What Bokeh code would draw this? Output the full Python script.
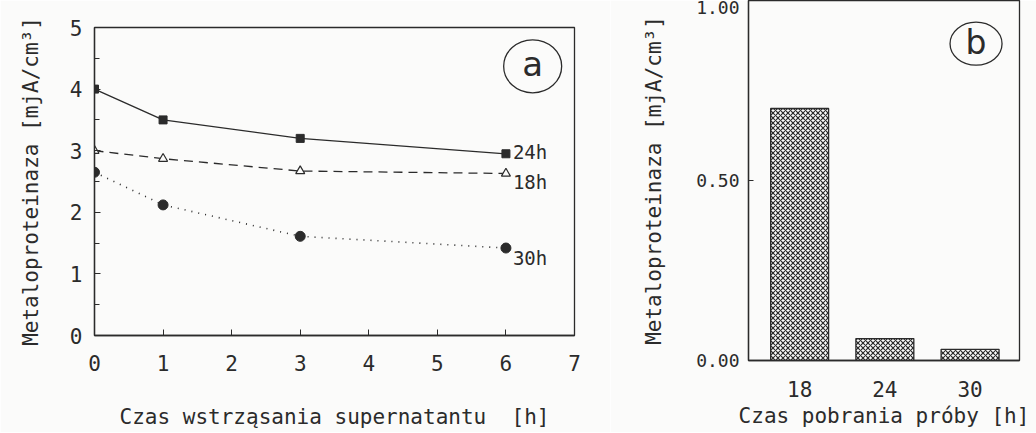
from bokeh.plotting import figure
from bokeh.layouts import row, column
from bokeh.models import (ColumnDataSource, FixedTicker, SingleIntervalTicker,
                          Range1d, NumeralTickFormatter)
from bokeh.core.properties import value
from bokeh.embed import file_html
from bokeh.resources import INLINE

# ---- data (panel a) ----
shake_time = [0, 1, 3, 6]
act_24h = [4.0, 3.5, 3.2, 2.95]
act_18h = [3.0, 2.87, 2.67, 2.63]
act_30h = [2.65, 2.12, 1.61, 1.42]
series_labels = ["24h", "18h", "30h"]
x_ticks_a = [0, 1, 2, 3, 4, 5, 6, 7]

# ---- data (panel b) ----
sample_time = ["18", "24", "30"]
sample_activity = [0.70, 0.061, 0.031]
y_ticks_b = [0.0, 0.5, 1.0]

INK = "#2b2b2b"
BG = "#fbfbfa"
FONT = "DejaVu Sans Mono"


def style_axis(ax, label_size, title_size):
    ax.axis_line_color = INK
    ax.axis_line_width = 1.3
    ax.major_tick_line_color = INK
    ax.minor_tick_line_color = INK
    ax.major_label_text_font = FONT
    ax.major_label_text_color = INK
    ax.major_label_text_font_size = label_size
    ax.axis_label_text_font = FONT
    ax.axis_label_text_color = INK
    ax.axis_label_text_font_size = title_size
    ax.axis_label_text_font_style = "normal"
    ax.major_tick_out = 0
    ax.minor_tick_out = 0


# ================= panel a =================
p1 = figure(width=610, height=432, x_range=Range1d(0, 7), y_range=Range1d(0, 5),
            output_backend="svg", toolbar_location=None,
            min_border_left=94, min_border_right=36, min_border_top=27,
            min_border_bottom=97, background_fill_color=BG, border_fill_color=BG)
p1.grid.visible = False
p1.outline_line_color = INK
p1.outline_line_width = 1.3

xa = p1.xaxis[0]
style_axis(xa, "21px", "21px")
xa.ticker = FixedTicker(ticks=x_ticks_a)
xa.major_tick_in = 6
xa.major_label_standoff = 19
xa.axis_label = "Czas wstrząsania supernatantu \u00a0[h]"
xa.axis_label_standoff = 31

ya = p1.yaxis[0]
style_axis(ya, "21px", "21px")
ya.ticker = SingleIntervalTicker(interval=1, num_minor_ticks=2)
ya.major_tick_in = 6
ya.minor_tick_in = 5
ya.major_label_standoff = 12
ya.axis_label = "Metaloproteinaza [mjA/cm³]"
ya.axis_label_standoff = 24

p1.line(shake_time, act_24h, line_color=INK, line_width=1.3)
p1.scatter(shake_time, act_24h, marker="square", size=8, fill_color=INK, line_color=INK)

p1.line(shake_time, act_18h, line_color=INK, line_width=1.3, line_dash="9 6")
p1.scatter(shake_time, act_18h, marker="triangle", size=9, fill_color=BG,
           line_color=INK, line_width=1.2)

p1.line(shake_time, act_30h, line_color=INK, line_width=1.6, line_dash="1 6")
p1.scatter(shake_time, act_30h, marker="circle", size=10, fill_color=INK, line_color=INK)

lab_src = ColumnDataSource(dict(
    x=[shake_time[-1]] * 3,
    y=[act_24h[-1], act_18h[-1], act_30h[-1]],
    t=series_labels,
    yo=[-2, 9, 10],
))
p1.text(x="x", y="y", text="t", source=lab_src, x_offset=7, y_offset="yo",
        text_font=value(FONT), text_font_size="19px", text_color=INK,
        text_baseline="middle", text_align="left")

# panel letter
p1.ellipse(x=[6.39], y=[4.37], width=58, height=53, width_units="screen",
           height_units="screen", fill_color=None, line_color=INK, line_width=1.3)
p1.text(x=[6.39], y=[4.37], text=["a"], text_font=value("DejaVu Sans"), text_font_size="34px",
        text_color=INK, text_align="center", text_baseline="middle", y_offset=-2)

# ================= panel b =================
xb = list(range(len(sample_time)))
p2 = figure(width=426, height=432, x_range=Range1d(-0.6, 2.58), y_range=Range1d(0, 1.0),
            output_backend="svg", toolbar_location=None,
            min_border_left=138, min_border_right=17, min_border_top=0,
            min_border_bottom=72, background_fill_color=BG, border_fill_color=BG)
p2.grid.visible = False
p2.outline_line_color = INK
p2.outline_line_width = 1.3

p2.vbar(x=xb, top=sample_activity, width=0.68, fill_color=BG, line_color=INK,
        line_width=1.3, hatch_pattern="diagonal_cross", hatch_scale=5,
        hatch_weight=1.2, hatch_color=INK)

xbx = p2.xaxis[0]
style_axis(xbx, "21px", "21px")
xbx.ticker = FixedTicker(ticks=xb)
xbx.major_label_overrides = {i: s for i, s in zip(xb, sample_time)}
xbx.major_tick_in = 0
xbx.major_label_standoff = 20
xbx.axis_label = "Czas pobrania próby [h]"
xbx.axis_label_standoff = 4

ybx = p2.yaxis[0]
style_axis(ybx, "18px", "21px")
ybx.ticker = FixedTicker(ticks=y_ticks_b)
ybx.formatter = NumeralTickFormatter(format="0.00")
ybx.major_tick_in = 5
ybx.major_label_standoff = 9
ybx.axis_label = "Metaloproteinaza [mjA/cm³]"
ybx.axis_label_standoff = 27

p2.ellipse(x=[2.07], y=[0.88], width=52, height=43, width_units="screen",
           height_units="screen", fill_color=None, line_color=INK, line_width=1.3)
p2.text(x=[2.07], y=[0.88], text=["b"], text_font=value("DejaVu Sans"), text_font_size="33px",
        text_color=INK, text_align="center", text_baseline="middle", y_offset=-1)

layout = row(column(p1), column(p2))
open("out.html", "w").write(file_html(layout, INLINE))
